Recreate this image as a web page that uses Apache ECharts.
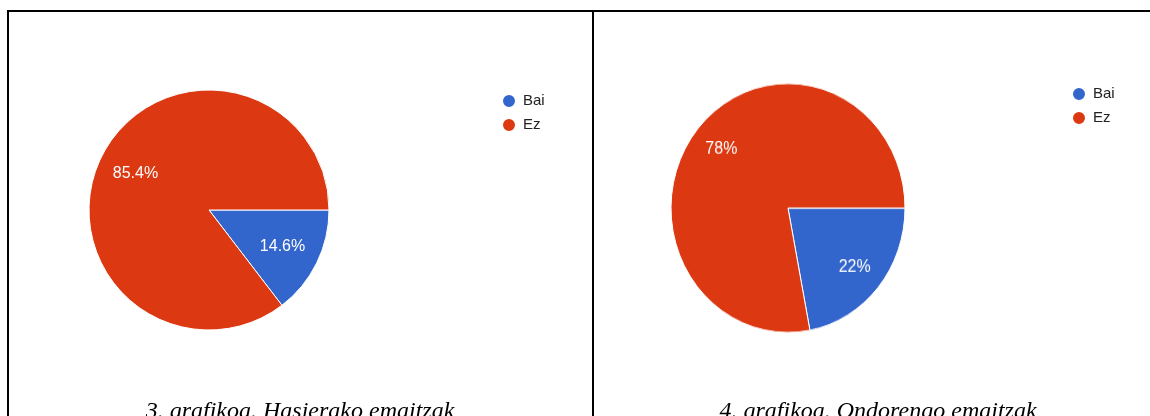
<!DOCTYPE html>
<html>
<head>
<meta charset="utf-8">
<script src="https://cdn.jsdelivr.net/npm/echarts@6/dist/echarts.min.js"></script>
<style>
  html, body { margin: 0; padding: 0; background: #fff; }
  #main { position: absolute; left: 0; top: 0; width: 1150px; height: 416px; }
  #right { position: absolute; left: 638px; top: 58px; width: 300px; height: 300px;
           transform: scale(1, 1.064); transform-origin: 150px 150px; }
</style>
</head>
<body>
<div id="main"></div>
<div id="right"></div>
<script>
const categories = ['Bai', 'Ez'];
const before = [14.6, 85.4];
const after = [22, 78];
const captions = ['3. grafikoa. Hasierako emaitzak', '4. grafikoa. Ondorengo emaitzak'];
const colors = ['#3366cc', '#dc3912'];

function pieData(vals) {
  return categories.map((c, i) => ({ name: c, value: vals[i] }));
}
function pieSeries(vals, center, r, r0) {
  const base = {
    type: 'pie', center: center, startAngle: 0, clockwise: true,
    silent: true, animation: false, data: pieData(vals)
  };
  return [
    Object.assign({}, base, {
      radius: r,
      itemStyle: { borderColor: '#fff', borderWidth: 1 },
      label: { show: false }, labelLine: { show: false }
    }),
    Object.assign({}, base, {
      radius: [r0, r],
      itemStyle: { color: 'rgba(0,0,0,0)', borderWidth: 0 },
      label: {
        show: true, position: 'inside', color: '#fff',
        fontFamily: 'Liberation Sans, Arial', fontSize: 16,
        formatter: p => p.value + '%'
      },
      labelLine: { show: false }
    })
  ];
}

const legendCommon = {
  orient: 'vertical', icon: 'circle', itemWidth: 14, itemHeight: 14, itemGap: 8,
  selectedMode: false, data: categories,
  textStyle: { color: '#222', fontSize: 15, fontFamily: 'Liberation Sans, Arial', padding: [0, 0, 0, 2] }
};

const main = echarts.init(document.getElementById('main'), null, { renderer: 'canvas' });
main.setOption({
  color: colors,
  animation: false,
  legend: [
    Object.assign({}, legendCommon, { left: 496, top: 88 }),
    Object.assign({}, legendCommon, { left: 1066, top: 81 })
  ],
  series: pieSeries(before, [209, 210], 120, 38),
  graphic: [
    { type: 'rect', shape: { x: 7, y: 10, width: 1143, height: 2 }, style: { fill: '#000' }, silent: true },
    { type: 'rect', shape: { x: 7, y: 10, width: 2, height: 406 }, style: { fill: '#000' }, silent: true },
    { type: 'rect', shape: { x: 592, y: 10, width: 2, height: 406 }, style: { fill: '#000' }, silent: true },
    { type: 'text', x: 300, y: 424, silent: true,
      style: { text: captions[0], align: 'center', verticalAlign: 'bottom',
               font: 'italic 24px "Liberation Serif", "Times New Roman", serif', fill: '#000' } },
    { type: 'text', x: 878, y: 424, silent: true,
      style: { text: captions[1], align: 'center', verticalAlign: 'bottom',
               font: 'italic 24px "Liberation Serif", "Times New Roman", serif', fill: '#000' } }
  ]
});

const right = echarts.init(document.getElementById('right'), null, { renderer: 'canvas' });
right.setOption({
  color: colors,
  animation: false,
  series: pieSeries(after, [150, 150], 117, 50)
});
</script>
</body>
</html>
